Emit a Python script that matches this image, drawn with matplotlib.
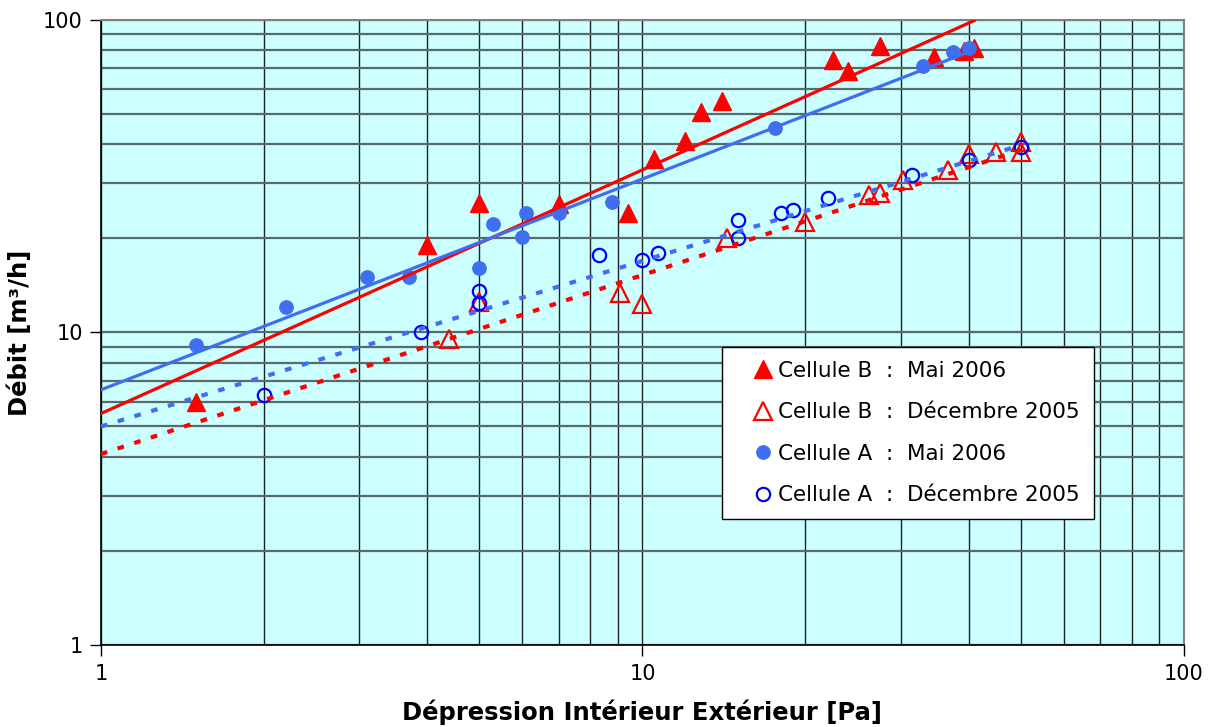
import numpy as np
import matplotlib
matplotlib.use("Agg")
import matplotlib.pyplot as plt
from matplotlib.ticker import LogLocator, NullFormatter, FixedLocator, FixedFormatter

# ---- data ----
b_mai_x = [1.5, 4.0, 5.0, 7.0, 9.4, 10.5, 12.0, 12.8, 14.0, 22.5, 24.0, 27.5, 34.6, 39.3, 41.0]
b_mai_y = [6.0, 19.0, 26.0, 25.8, 24.1, 35.9, 41.0, 50.9, 55.2, 74.5, 68.7, 82.6, 76.0, 79.6, 81.5]

b_dec_x = [4.4, 5.0, 9.1, 10.0, 14.3, 20.0, 26.2, 27.5, 30.3, 36.7, 40.0, 44.9, 50.0, 50.0]
b_dec_y = [9.5, 12.5, 13.4, 12.3, 20.1, 22.5, 27.5, 28.0, 30.8, 33.2, 37.3, 37.7, 40.6, 37.7]

a_mai_x = [1.5, 2.2, 3.1, 3.7, 5.0, 5.3, 6.0, 6.1, 7.0, 8.8, 17.6, 33.0, 37.5, 40.0]
a_mai_y = [9.1, 12.1, 15.1, 15.1, 16.1, 22.2, 20.2, 24.2, 24.2, 26.1, 45.2, 71.4, 79.2, 81.2]

a_dec_x = [2.0, 3.9, 5.0, 5.0, 8.3, 10.0, 10.7, 15.0, 15.0, 18.0, 19.0, 22.0, 31.5, 40.0, 50.0]
a_dec_y = [6.3, 10.0, 13.6, 12.4, 17.7, 17.1, 17.9, 22.9, 20.1, 24.2, 24.6, 26.9, 31.9, 35.6, 39.2]

# power-law trendlines y = a * x^b, order: B mai, B dec, A mai, A dec
trend_a = [5.5, 4.08, 6.55, 5.0]
trend_b = [0.78, 0.573, 0.675, 0.53]

labels = ["Cellule B  :  Mai 2006", "Cellule B  :  Décembre 2005",
          "Cellule A  :  Mai 2006", "Cellule A  :  Décembre 2005"]
tick_vals = [1, 10, 100]
tick_labels = ["1", "10", "100"]

RED = "#FF0000"
BLUE = "#3F6FF0"
DBLUE = "#0000FF"
BG = "#CCFFFF"

fig = plt.figure(figsize=(12.12, 7.27), dpi=100)
ax = fig.add_axes([0.0833, 0.113, 0.8936, 0.8595])
ax.set_facecolor(BG)
ax.set_xscale("log")
ax.set_yscale("log")
ax.set_xlim(1, 100)
ax.set_ylim(1, 100)

# grid
ax.xaxis.set_major_locator(FixedLocator(tick_vals))
ax.yaxis.set_major_locator(FixedLocator(tick_vals))
ax.xaxis.set_major_formatter(FixedFormatter(tick_labels))
ax.yaxis.set_major_formatter(FixedFormatter(tick_labels))
ax.xaxis.set_minor_locator(LogLocator(base=10, subs=np.arange(2, 10)))
ax.yaxis.set_minor_locator(LogLocator(base=10, subs=np.arange(2, 10)))
ax.xaxis.set_minor_formatter(NullFormatter())
ax.yaxis.set_minor_formatter(NullFormatter())
ax.grid(True, which="both", axis="x", color="#202020", lw=1.0, zorder=0)
ax.grid(True, which="both", axis="y", color="#5a6a6a", lw=1.6, zorder=0)
ax.set_axisbelow(True)
ax.tick_params(which="minor", length=0)
ax.tick_params(which="major", length=8, width=1, direction="out", labelsize=15)
ax.tick_params(axis="x", which="major", pad=6)
ax.tick_params(axis="y", which="major", pad=5)

for s in ["top", "right"]:
    ax.spines[s].set_color("#808080")
    ax.spines[s].set_linewidth(1.5)
for s in ["left", "bottom"]:
    ax.spines[s].set_color("black")
    ax.spines[s].set_linewidth(1.2)

# markers
series = [(b_mai_x, b_mai_y), (b_dec_x, b_dec_y), (a_mai_x, a_mai_y), (a_dec_x, a_dec_y)]
ax.plot(b_mai_x, b_mai_y, ls="none", marker="^", ms=13.5, color=RED, mec=RED, zorder=3, label=labels[0])
ax.plot(b_dec_x, b_dec_y, ls="none", marker="^", ms=13.5, mfc="none", mec=RED, mew=1.6, zorder=3, label=labels[1])
ax.plot(a_mai_x, a_mai_y, ls="none", marker="o", ms=9.6, color=BLUE, mec=BLUE, zorder=3, label=labels[2])
ax.plot(a_dec_x, a_dec_y, ls="none", marker="o", ms=9.6, mfc="none", mec=DBLUE, mew=1.6, zorder=3, label=labels[3])

# trendlines (extended back to x=1, up to the last measurement)
styles = [(RED, "-", 2.3), (RED, (0, (1.6, 2.6)), 3.0), (BLUE, "-", 2.3), (BLUE, (0, (1.6, 2.6)), 3.0)]
for (xs, ys), a, b, (col, ls, lw) in zip(series, trend_a, trend_b, styles):
    xx = np.logspace(0, np.log10(max(xs)), 200)
    ax.plot(xx, a * xx ** b, color=col, lw=lw, ls=ls, zorder=4)

ax.set_xlabel("Dépression Intérieur Extérieur [Pa]", fontsize=17.5, fontweight="bold", labelpad=11)
ax.set_ylabel("Débit [m³/h]", fontsize=17.5, fontweight="bold", labelpad=8)

leg = ax.legend(loc="upper left", bbox_to_anchor=(0.5734, 0.4768), fontsize=15.5,
                frameon=True, fancybox=False, edgecolor="black", facecolor="white",
                framealpha=1, handletextpad=-0.55, handlelength=2.5, labelspacing=1.0,
                borderpad=0.65, borderaxespad=0)
leg.get_frame().set_linewidth(1.0)
leg.set_zorder(10)

fig.savefig("out.png", dpi=100)
